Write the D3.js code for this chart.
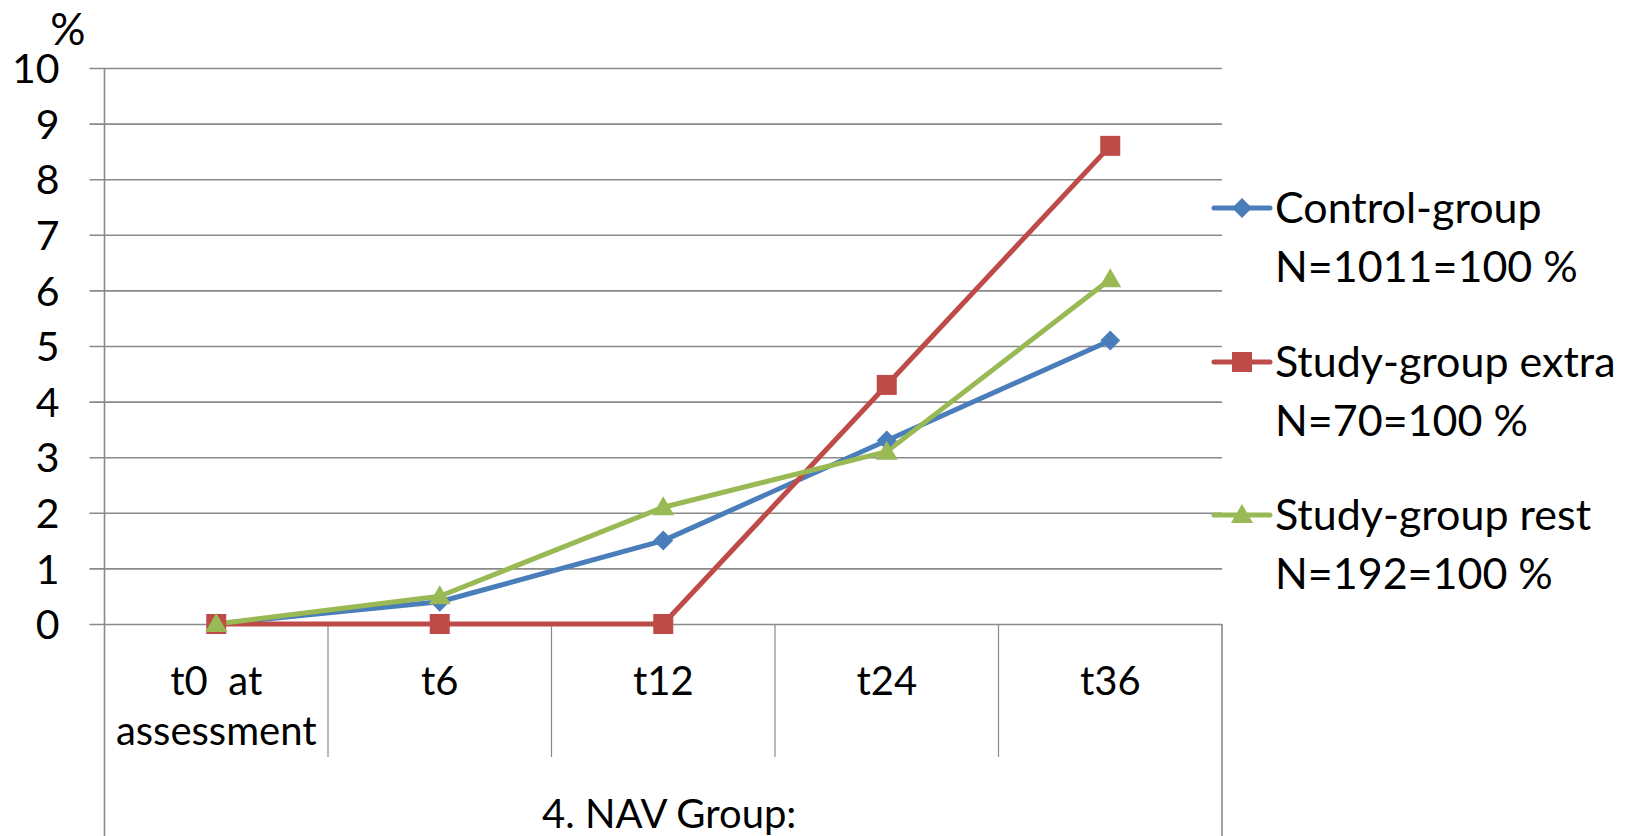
<!DOCTYPE html>
<html>
<head>
<meta charset="utf-8">
<script src="https://cdn.jsdelivr.net/npm/d3@7"></script>
<style>
  html, body { margin: 0; padding: 0; background: #fff; }
  svg { display: block; }
  text { font-family: Lato, "Noto Sans", sans-serif; fill: #000; }
</style>
</head>
<body>
<svg id="chart" width="1640" height="836"></svg>
<script>
// Time points and the outer category group
const categories = ["t0  at|assessment", "t6", "t12", "t24", "t36"];
const groupLabel = "4. NAV Group:";

// Percentages per series
const controlValues = [0, 0.4, 1.5, 3.3, 5.1];
const extraValues   = [0, 0, 0, 4.3, 8.6];
const restValues    = [0, 0.5, 2.1, 3.1, 6.2];

const yTicks = [0, 1, 2, 3, 4, 5, 6, 7, 8, 9, 10];

const seriesNames = ["Control-group", "Study-group extra", "Study-group rest"];
const seriesSub   = ["N=1011=100 %", "N=70=100 %", "N=192=100 %"];

const series = [
  { name: seriesNames[0], sub: seriesSub[0], values: controlValues, color: "#4A7EBB", marker: "diamond" },
  { name: seriesNames[1], sub: seriesSub[1], values: extraValues,   color: "#BE4B48", marker: "square" },
  { name: seriesNames[2], sub: seriesSub[2], values: restValues,    color: "#98B954", marker: "triangle" }
];

const svg = d3.select("#chart");
const plotLeft = 104.5, plotRight = 1222, plotTop = 68, plotBottom = 624;
const tickFont = 41, catFont = 40, legendFont = 43;
const gridColor = "#8a8a8a";

const x = d3.scaleBand().domain(categories).range([plotLeft, plotRight]);
const y = d3.scaleLinear().domain([0, 10]).range([plotBottom, plotTop]);

// Horizontal gridlines with short outside ticks
const yAxis = d3.axisLeft(y).tickValues(yTicks).tickSize(-(plotRight - plotLeft)).tickPadding(0).tickFormat(d3.format("d"));
const gy = svg.append("g").attr("transform", `translate(${plotLeft},0)`).call(yAxis);
gy.select(".domain").remove();
gy.selectAll(".tick line").attr("stroke", gridColor).attr("stroke-width", 1.6).attr("x1", -15);
gy.selectAll(".tick text")
  .attr("x", -45).attr("dy", "0.36em")
  .style("font-size", tickFont + "px").style("font-family", "Lato, sans-serif").attr("fill", "#000");

// Vertical axis line and right boundary of the category table
svg.append("line").attr("x1", plotLeft).attr("x2", plotLeft).attr("y1", plotTop).attr("y2", 836)
  .attr("stroke", gridColor).attr("stroke-width", 1.6);
svg.append("line").attr("x1", plotRight).attr("x2", plotRight).attr("y1", plotBottom).attr("y2", 836)
  .attr("stroke", gridColor).attr("stroke-width", 1.6);

// Category dividers
const dividers = categories.slice(1).map(c => x(c));
svg.selectAll("line.div").data(dividers).enter().append("line")
  .attr("class", "div")
  .attr("x1", d => d).attr("x2", d => d).attr("y1", plotBottom).attr("y2", 757)
  .attr("stroke", gridColor).attr("stroke-width", 1.2);

// Category labels (multi-line)
categories.forEach(c => {
  const lines = c.split("|");
  const cx = x(c) + x.bandwidth() / 2;
  const t = svg.append("text")
    .attr("text-anchor", "middle")
    .attr("xml:space", "preserve")
    .style("font-size", catFont + "px")
    .attr("x", cx)
    .attr("y", 695);
  lines.forEach((l, i) => {
    t.append("tspan").attr("x", cx).attr("dy", i === 0 ? 0 : 50).text(l);
  });
});

// Outer group label
svg.append("text").attr("text-anchor", "middle").style("font-size", catFont + "px")
  .attr("x", (plotLeft + plotRight) / 2 + 6).attr("y", 828).text(groupLabel);

// Unit label
svg.append("text").attr("text-anchor", "middle").style("font-size", "44px")
  .attr("x", 68).attr("y", 45).text("%");

// Marker shapes
function markerPath(type) {
  if (type === "diamond") return "M0,-10L10,0L0,10L-10,0Z";
  if (type === "square") return "M-10,-10H10V10H-10Z";
  return "M0,-11L11,8H-11Z";
}

const line = d3.line().x((d, i) => x(categories[i]) + x.bandwidth() / 2).y(d => y(d));

series.forEach(s => {
  svg.append("path").attr("d", line(s.values)).attr("fill", "none")
    .attr("stroke", s.color).attr("stroke-width", 5).attr("stroke-linejoin", "round");
});
series.forEach(s => {
  svg.selectAll(null).data(s.values).enter().append("path")
    .attr("d", markerPath(s.marker))
    .attr("transform", (d, i) => `translate(${x(categories[i]) + x.bandwidth() / 2},${y(d)})`)
    .attr("fill", s.color);
});

// Legend
const legendY = [208, 362, 515];
series.forEach((s, i) => {
  const ly = legendY[i];
  const g = svg.append("g");
  g.append("line").attr("x1", 1214).attr("x2", 1270).attr("y1", ly).attr("y2", ly)
    .attr("stroke", s.color).attr("stroke-width", 5).attr("stroke-linecap", "round");
  g.append("path").attr("d", markerPath(s.marker)).attr("transform", `translate(1242,${ly})`).attr("fill", s.color);
  g.append("text").attr("x", 1275).attr("y", ly + 15).style("font-size", legendFont + "px").text(s.name);
  g.append("text").attr("x", 1275).attr("y", ly + 74).style("font-size", legendFont + "px").text(s.sub);
});
</script>
</body>
</html>
